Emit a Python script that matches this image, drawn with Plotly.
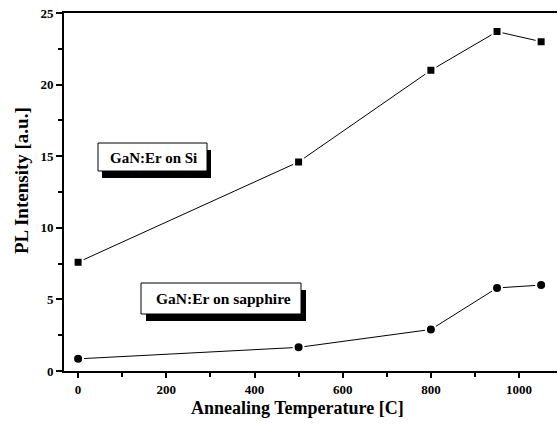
import plotly.graph_objects as go

temps = [0, 500, 800, 950, 1050]
si_vals = [7.6, 14.6, 21.0, 23.7, 23.0]
sapphire_vals = [0.85, 1.65, 2.9, 5.8, 6.0]
x_ticks = [0, 200, 400, 600, 800, 1000]
y_ticks = [0, 5, 10, 15, 20, 25]

W, H = 558, 424
L, R, T, B = 64, 557, 13, 371
FONT = "Liberation Serif"

def px(x):
    return (x - L) / (R - L)

def py(y):
    return (B - y) / (B - T)

fig = go.Figure()
fig.add_trace(go.Scatter(x=temps, y=si_vals, mode="lines+markers",
                         line=dict(color="black", width=1),
                         marker=dict(symbol="square", size=9, color="black",
                                     line=dict(color="white", width=2))))
fig.add_trace(go.Scatter(x=temps, y=sapphire_vals, mode="lines+markers",
                         line=dict(color="black", width=1),
                         marker=dict(symbol="circle", size=10, color="black",
                                     line=dict(color="white", width=2))))

shapes = []
def box(x0, y0, x1, y1, dx, dy):
    shapes.append(dict(type="rect", xref="paper", yref="paper",
                       x0=px(x0 + dx), x1=px(x1 + dx), y0=py(y1 + dy), y1=py(y0 + dy),
                       fillcolor="black", line=dict(width=0), layer="above"))
    shapes.append(dict(type="rect", xref="paper", yref="paper",
                       x0=px(x0), x1=px(x1), y0=py(y1), y1=py(y0),
                       fillcolor="white", line=dict(color="black", width=1), layer="above"))

box(98, 143, 207, 171, 4, 7)
box(141, 283, 301, 314, 5, 7)

def ann(text, x, y, size, angle=0):
    return dict(text="<b>%s</b>" % text, x=px(x), y=py(y), xref="paper", yref="paper",
                xanchor="center", yanchor="middle", showarrow=False, textangle=angle,
                font=dict(family=FONT, size=size, color="black"))

annotations = [
    ann("GaN:Er on Si", 153, 157.5, 15),
    ann("GaN:Er on sapphire", 223, 298.5, 15.5),
    ann("Annealing Temperature [C]", 297, 408, 18),
    ann("PL Intensity [a.u.]", 22, 181, 19, -90),
]

fig.update_layout(
    width=W, height=H,
    margin=dict(l=L, r=W - R, t=T, b=H - B),
    paper_bgcolor="white", plot_bgcolor="white",
    showlegend=False,
    shapes=shapes, annotations=annotations,
    font=dict(family=FONT, size=12, color="black"),
)
fig.update_xaxes(range=[-32, 1086], tickvals=x_ticks,
                 ticktext=["<b>%d</b>" % v for v in x_ticks],
                 ticks="outside", ticklen=5,
                 tickwidth=1.5, tickcolor="black", showline=True, linecolor="black",
                 linewidth=2, mirror=True, showgrid=False, zeroline=False,
                 tickfont=dict(family=FONT, size=13, color="black"),
                 minor=dict(dtick=100, tick0=0, ticks="outside", ticklen=4,
                            tickwidth=1.5, tickcolor="black"))
fig.update_yaxes(range=[0, 25], tickvals=y_ticks,
                 ticktext=["<b>%d</b>" % v for v in y_ticks],
                 ticks="outside", ticklen=6,
                 tickwidth=1.5, tickcolor="black", showline=True, linecolor="black",
                 linewidth=2, showgrid=False, zeroline=False,
                 tickfont=dict(family=FONT, size=13, color="black"),
                 minor=dict(dtick=2.5, tick0=0, ticks="outside", ticklen=4,
                            tickwidth=1.5, tickcolor="black"))

fig.write_html("out.html")
